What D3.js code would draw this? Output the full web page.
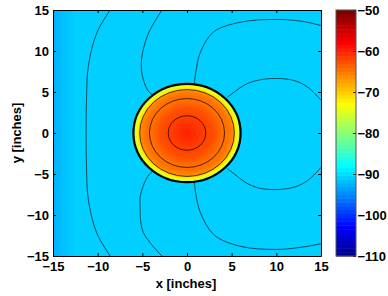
<!DOCTYPE html>
<html>
<head>
<meta charset="utf-8">
<script src="https://cdnjs.cloudflare.com/ajax/libs/d3/7.8.5/d3.min.js"></script>
<style>
  body { margin: 0; background: #fff; }
  text { font-family: "Liberation Sans", Arial, sans-serif; font-weight: bold; font-size: 13px; fill: #000; }
</style>
</head>
<body>
<div id="chart"></div>
<script>
var svgWidth = 388;
var svgHeight = 296;
var margin = { top: 10, left: 53 };
var width = 268;
var height = 246;

var axisTicks = [-15, -10, -5, 0, 5, 10, 15];
var barTicks = [-50, -60, -70, -80, -90, -100, -110];
var levelRange = [-110, -50];

// background level (dB) and the bluer strip along the left edge
var bgLevel = -90.8;
var edgeX = [-15, -14, -12.5];
var edgeLevel = [-92.5, -91.6, -90.8];

// source disc: radius (inches) -> level (dB)
var discR = [0, 1, 2, 3, 4, 4.6, 5.25, 5.35, 5.5, 5.7, 5.85, 6.0];
var discLevel = [-59.5, -60.5, -61.5, -63, -64.5, -65, -66, -70, -72, -73.5, -77, -82];
var ringR = [2.1, 4.2, 5.3];
var discEdge = 6.0;

// contour lines outside the disc, [x, y] in inches
var contourA = [[-8.6, 15], [-10.1, 12.2], [-11.05, 8.1], [-11.25, 4], [-11.3, 0], [-11.25, -4], [-11.05, -8.1], [-10.1, -12.2], [-8.6, -15]];
var contourBTop = [[-2.8, 15], [-4.3, 12.2], [-5.05, 9.3], [-5.05, 7.3], [-4.4, 5.2], [-3.8, 4.6]];
var contourBBottom = [[-3.8, -4.6], [-4.4, -5.3], [-5.2, -7.5], [-5.26, -8.9], [-4.9, -12.1], [-2.8, -15]];
var contourCTop = [[0.8, 5.9], [1.0, 7.5], [1.46, 9.74], [2.95, 12.3], [5.9, 13.5], [10, 13.85], [13, 13.6], [15, 13.1]];
var contourCBottom = [[0.8, -5.9], [1.0, -7.5], [1.46, -9.6], [3, -12.4], [5.9, -13.8], [10, -14.2], [13, -13.9], [15, -13.5]];
var contourDTop = [[4.5, 4.35], [5.3, 5.0], [6.5, 5.9], [8, 6.45], [10, 6.65], [12, 6.4], [13.5, 5.6], [15, 4.0]];
var contourDBottom = [[4.5, -4.35], [5.3, -5.0], [6.5, -6.0], [8, -6.7], [10, -6.9], [12, -6.6], [13.5, -5.8], [15, -4.2]];
var contours = [contourA, contourBTop, contourBBottom, contourCTop, contourCBottom, contourDTop, contourDBottom];

// jet colormap, 64 steps like matlab
function jet(t) {
  function c(v) { return Math.max(0, Math.min(1, v)); }
  var r = c(Math.min(4 * t - 1.5, -4 * t + 4.5));
  var g = c(Math.min(4 * t - 0.5, -4 * t + 3.5));
  var b = c(Math.min(4 * t + 0.5, -4 * t + 2.5));
  return d3.rgb(r * 255, g * 255, b * 255).formatHex();
}
var jetColors = d3.range(64).map(function(i) { return jet((i + 1) / 64); });
var color = d3.scaleQuantize().domain(levelRange).range(jetColors);

var svg = d3.select("#chart")
  .append("svg")
  .attr("width", svgWidth)
  .attr("height", svgHeight);

var defs = svg.append("defs");
defs.append("clipPath").attr("id", "plotClip")
  .append("rect").attr("width", width).attr("height", height);

var x = d3.scaleLinear().domain([-15, 15]).range([0, width]);
var y = d3.scaleLinear().domain([-15, 15]).range([height, 0]);

var chart = svg.append("g")
  .attr("transform", "translate(" + margin.left + "," + margin.top + ")");

var plot = chart.append("g").attr("clip-path", "url(#plotClip)");

// background
plot.append("rect")
  .attr("width", width)
  .attr("height", height)
  .attr("fill", color(bgLevel));

var edgeGrad = defs.append("linearGradient").attr("id", "edgeGrad")
  .attr("gradientUnits", "userSpaceOnUse")
  .attr("x1", x(edgeX[0])).attr("x2", x(edgeX[edgeX.length - 1]))
  .attr("y1", 0).attr("y2", 0);
edgeGrad.selectAll("stop").data(edgeX).enter().append("stop")
  .attr("offset", function(d) { return (d - edgeX[0]) / (edgeX[edgeX.length - 1] - edgeX[0]); })
  .attr("stop-color", function(d, i) { return color(edgeLevel[i]); });
plot.append("rect")
  .attr("x", x(edgeX[0]))
  .attr("width", x(edgeX[edgeX.length - 1]) - x(edgeX[0]))
  .attr("height", height)
  .attr("fill", "url(#edgeGrad)");

// contour lines
var line = d3.line()
  .x(function(d) { return x(d[0]); })
  .y(function(d) { return y(d[1]); })
  .curve(d3.curveCatmullRom);

plot.selectAll(".contour")
  .data(contours)
  .enter()
  .append("path")
  .attr("class", "contour")
  .attr("d", line)
  .attr("fill", "none")
  .attr("stroke", "#0a2a35")
  .attr("stroke-width", 0.8);

// disc with radial profile
var discGrad = defs.append("radialGradient").attr("id", "discGrad")
  .attr("cx", 0.5).attr("cy", 0.5).attr("r", 0.5);
discGrad.selectAll("stop").data(discR).enter().append("stop")
  .attr("offset", function(d) { return d / discEdge; })
  .attr("stop-color", function(d, i) { return color(discLevel[i]); });

plot.append("ellipse")
  .attr("cx", x(0))
  .attr("cy", y(0))
  .attr("rx", x(discEdge) - x(0))
  .attr("ry", y(0) - y(discEdge))
  .attr("fill", "url(#discGrad)")
  .attr("stroke", "#000")
  .attr("stroke-width", 2.2);

plot.selectAll(".ring")
  .data(ringR)
  .enter()
  .append("ellipse")
  .attr("class", "ring")
  .attr("cx", x(0))
  .attr("cy", y(0))
  .attr("rx", function(d) { return x(d) - x(0); })
  .attr("ry", function(d) { return y(0) - y(d); })
  .attr("fill", "none")
  .attr("stroke", "#000")
  .attr("stroke-width", 0.7);

// axes, ticks inside like matlab
var bottomAxis = d3.axisBottom(x).tickValues(axisTicks).tickSizeInner(-3).tickSizeOuter(0).tickPadding(6);
var leftAxis = d3.axisLeft(y).tickValues(axisTicks).tickSizeInner(-3).tickSizeOuter(0).tickPadding(4);
var topAxis = d3.axisTop(x).tickValues(axisTicks).tickSizeInner(-3).tickSizeOuter(0).tickFormat("");
var rightAxis = d3.axisRight(y).tickValues(axisTicks).tickSizeInner(-3).tickSizeOuter(0).tickFormat("");

chart.append("g").attr("class", "x-axis").attr("transform", "translate(0," + height + ")").call(bottomAxis);
chart.append("g").attr("class", "y-axis").call(leftAxis);
chart.append("g").call(topAxis);
chart.append("g").attr("transform", "translate(" + width + ",0)").call(rightAxis);
chart.selectAll(".tick text").attr("font-size", null).attr("font-family", null);
chart.selectAll(".domain, .tick line").attr("stroke", "#000");

chart.append("text")
  .attr("x", width / 2 - 1)
  .attr("y", 278)
  .attr("text-anchor", "middle")
  .text("x [inches]");

chart.append("text")
  .attr("transform", "rotate(-90)")
  .attr("x", -height / 2)
  .attr("y", -32)
  .attr("text-anchor", "middle")
  .text("y [inches]");

// colorbar
var barX = 336;
var barW = 20;
var barScale = d3.scaleLinear().domain(levelRange).range([height, 0]);
var bar = svg.append("g").attr("transform", "translate(" + barX + "," + margin.top + ")");
var stepH = height / jetColors.length;
bar.selectAll("rect.step")
  .data(jetColors)
  .enter()
  .append("rect")
  .attr("class", "step")
  .attr("x", 0)
  .attr("y", function(d, i) { return height - (i + 1) * stepH; })
  .attr("width", barW)
  .attr("height", stepH + 0.5)
  .attr("fill", function(d) { return d; });
bar.append("rect")
  .attr("width", barW)
  .attr("height", height)
  .attr("fill", "none")
  .attr("stroke", "#555")
  .attr("stroke-width", 1);

var barAxis = d3.axisRight(barScale).tickValues(barTicks).tickSizeInner(-3).tickSizeOuter(0).tickPadding(1.5);
bar.append("g").attr("transform", "translate(" + barW + ",0)").call(barAxis)
  .call(function(g) { g.select(".domain").remove(); })
  .call(function(g) {
    g.selectAll(".tick text").attr("font-size", null).attr("font-family", null);
    g.selectAll(".tick line").attr("stroke", "#333");
  });
</script>
</body>
</html>
